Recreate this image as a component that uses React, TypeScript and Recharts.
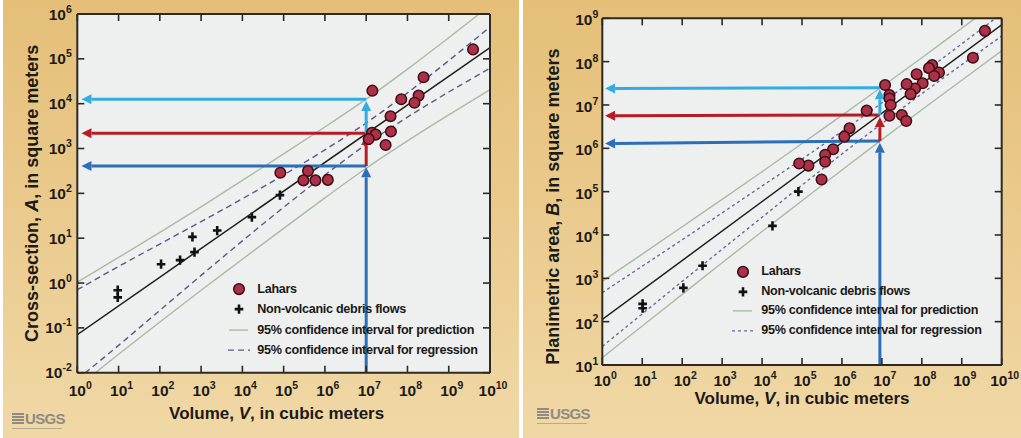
import React from 'react';
import {
  ComposedChart,
  Line,
  Scatter,
  XAxis,
  YAxis,
  ReferenceLine,
  CartesianGrid,
  Legend,
} from 'recharts';

// ---------- ticks & labels ----------
const volumeTicks = [1, 1e1, 1e2, 1e3, 1e4, 1e5, 1e6, 1e7, 1e8, 1e9, 1e10];
const crossSectionTicks = [1e-2, 1e-1, 1, 1e1, 1e2, 1e3, 1e4, 1e5, 1e6];
const planimetricTicks = [1e1, 1e2, 1e3, 1e4, 1e5, 1e6, 1e7, 1e8, 1e9];
const legendLabels = [
  'Lahars',
  'Non-volcanic debris flows',
  '95% confidence interval for prediction',
  '95% confidence interval for regression',
];

type Pair = [number, number]; // [log10 V, log10 area]

// ---------- left panel: cross-section A ----------
const laharsA: Pair[] = [
  [9.59, 5.21], [8.39, 4.59], [7.15, 4.29], [7.85, 4.1], [8.27, 4.18], [8.17, 4.02],
  [7.59, 3.72], [7.6, 3.38], [7.14, 3.35], [7.23, 3.31], [7.06, 3.21], [7.47, 3.08],
  [4.92, 2.46], [5.59, 2.5], [5.48, 2.29], [5.77, 2.29], [6.07, 2.3],
];
const debrisA: Pair[] = [
  [0.98, -0.16], [0.98, -0.32], [2.03, 0.42], [2.49, 0.51], [2.79, 1.03],
  [2.84, 0.69], [3.39, 1.17], [4.23, 1.47], [4.91, 1.96],
];
const curveLogV = [0, 1, 2, 3, 4, 5, 6, 7, 8, 9, 10];
const regLineA: Pair[] = [[0, -1.15], [10, 5.25]];
const regUpperA = [-0.15, 0.37, 0.87, 1.37, 1.88, 2.41, 2.97, 3.57, 4.24, 4.96, 5.71];
const regLowerA = [-2.15, -1.39, -0.61, 0.17, 0.94, 1.69, 2.41, 3.09, 3.7, 4.26, 4.79];
const predUpperA = [0.02, 0.57, 1.13, 1.7, 2.29, 2.88, 3.48, 4.1, 4.77, 5.47, 6.19];
const predLowerA = [-2.32, -1.59, -0.87, -0.16, 0.53, 1.22, 1.9, 2.56, 3.17, 3.75, 4.31];
const arrowsA = [
  { kind: 'lower', from: [7.0, -2] as Pair, to: [7.0, 2.58] as Pair },
  { kind: 'lower', from: [7.0, 2.61] as Pair, to: [0.1, 2.61] as Pair },
  { kind: 'mid', from: [7.0, 2.61] as Pair, to: [7.0, 3.3] as Pair },
  { kind: 'mid', from: [7.0, 3.34] as Pair, to: [0.1, 3.34] as Pair },
  { kind: 'upper', from: [7.0, 3.34] as Pair, to: [7.0, 4.06] as Pair },
  { kind: 'upper', from: [7.0, 4.1] as Pair, to: [0.1, 4.1] as Pair },
];

// ---------- right panel: planimetric area B ----------
const laharsB: Pair[] = [
  [9.58, 8.71], [9.28, 8.09], [8.26, 7.92], [8.18, 7.85], [8.43, 7.75], [8.31, 7.67],
  [7.87, 7.71], [8.02, 7.5], [7.83, 7.38], [7.62, 7.48], [7.72, 7.25], [7.08, 7.46],
  [7.19, 7.23], [7.19, 7.15], [7.22, 7.0], [7.19, 6.75], [7.5, 6.77], [7.61, 6.63],
  [6.62, 6.87], [6.19, 6.46], [6.06, 6.27], [5.78, 5.98], [5.58, 5.85], [5.58, 5.69],
  [5.49, 5.28], [5.16, 5.6], [4.93, 5.65],
];
const debrisB: Pair[] = [
  [1.01, 2.41], [1.01, 2.31], [2.03, 2.78], [2.51, 3.29], [4.26, 4.21], [4.91, 5.0],
];
const regLineB: Pair[] = [[0, 2.05], [10, 8.85]];
const regUpperB = [2.67, 3.28, 3.89, 4.51, 5.13, 5.75, 6.39, 7.05, 7.72, 8.41, 9.11];
const regLowerB = [1.43, 2.18, 2.93, 3.67, 4.41, 5.15, 5.87, 6.57, 7.26, 7.93, 8.59];
const predUpperB = [2.93, 3.56, 4.19, 4.82, 5.46, 6.11, 6.76, 7.42, 8.09, 8.77, 9.45];
const predLowerB = [1.17, 1.9, 2.63, 3.36, 4.08, 4.79, 5.5, 6.2, 6.89, 7.57, 8.25];
const arrowsB = [
  { kind: 'lower', from: [6.95, 1] as Pair, to: [6.95, 6.13] as Pair },
  { kind: 'lower', from: [6.95, 6.17] as Pair, to: [0.07, 6.11] as Pair },
  { kind: 'mid', from: [6.95, 6.17] as Pair, to: [6.95, 6.72] as Pair },
  { kind: 'mid', from: [6.95, 6.77] as Pair, to: [0.07, 6.75] as Pair },
  { kind: 'upper', from: [6.95, 6.77] as Pair, to: [6.95, 7.36] as Pair },
  { kind: 'upper', from: [6.95, 7.4] as Pair, to: [0.07, 7.38] as Pair },
];

// ---------- helpers ----------
const pts = (pairs: Pair[]) => pairs.map(([lv, ly]) => ({ v: 10 ** lv, y: 10 ** ly }));
const curve = (ys: number[]) => pts(curveLogV.map((lv, i) => [lv, ys[i]] as Pair));

// ---------- styles ----------
const FONT = "'Liberation Sans', Arial, Helvetica, sans-serif";
const INK = '#1b1a17';
const FRAME = '#2e2a22';
const PLOT_BG = '#eeefef';
const PRED = '#a9bba6';
const REG = '#1e1e1e';
const ARROW_COLORS: Record<string, string> = {
  lower: '#2a6fb8',
  mid: '#b71c24',
  upper: '#33ace3',
};
const TAN = 'linear-gradient(180deg, #e5bf78 0%, #eac98b 45%, #f0d8a6 100%)';

const arrowShape = (color: string) => (p: any) => {
  const { x1, y1, x2, y2 } = p;
  const dx = x2 - x1;
  const dy = y2 - y1;
  const len = Math.hypot(dx, dy) || 1;
  const ux = dx / len;
  const uy = dy / len;
  const L = 10;
  const W = 5;
  const bx = x2 - ux * L;
  const by = y2 - uy * L;
  return (
    <g>
      <line x1={x1} y1={y1} x2={bx} y2={by} stroke={color} strokeWidth={3} />
      <polygon
        points={`${x2},${y2} ${bx - uy * W},${by + ux * W} ${bx + uy * W},${by - ux * W}`}
        fill={color}
      />
    </g>
  );
};

const LaharDot = (p: any) => (
  <circle cx={p.cx} cy={p.cy} r={5.3} fill="#ad3047" stroke="#3a0f15" strokeWidth={1.5} />
);
const DebrisMark = (p: any) => (
  <path
    d={`M${p.cx - 4.3},${p.cy}H${p.cx + 4.3}M${p.cx},${p.cy - 4.6}V${p.cy + 4.6}`}
    stroke="#111"
    strokeWidth={2.6}
  />
);

const Pow = ({ x, y, value, anchor, dx = 0 }: any) => {
  const e = Math.round(Math.log10(value));
  return (
    <text
      x={x + dx}
      y={y}
      textAnchor={anchor}
      fontFamily={FONT}
      fontWeight="bold"
      fontSize={15.5}
      fill={INK}
    >
      10
      <tspan dy={-7} fontSize={10.5}>
        {e}
      </tspan>
    </text>
  );
};

type Cfg = {
  width: number;
  margin: { top: number; right: number; bottom: number; left: number };
  yTicks: number[];
  yDomain: [number, number];
  lahars: Pair[];
  debris: Pair[];
  regLine: Pair[];
  regUpper: number[];
  regLower: number[];
  predUpper: number[];
  predLower: number[];
  arrows: { kind: string; from: Pair; to: Pair }[];
  dash: string;
  dashColor: string;
  xTickDy: number;
  yTickDy: number;
  yTickDx: number;
  xLabelDx: number;
  xLabelDy: number;
  yLabelDx: number;
  yLabelDy: number;
  yLabel: [string, string, string];
  legendPos: { left: number; top: number };
  legendRow: number;
};

const H = 438;

function Panel({ c }: { c: Cfg }) {
  const tickStroke = { stroke: FRAME, strokeWidth: 1.6 };
  const axisLine = { stroke: FRAME, strokeWidth: 2 };
  const LegendBox = () => (
    <div
      style={{
        fontFamily: FONT,
        fontWeight: 'bold',
        fontSize: 12.6,
        letterSpacing: -0.3,
        color: INK,
      }}
    >
      {legendLabels.map((t, i) => (
        <div key={t} style={{ display: 'flex', alignItems: 'center', height: c.legendRow }}>
          <svg width={30} height={c.legendRow} style={{ flex: 'none' }}>
            {i === 0 && <LaharDot cx={12} cy={c.legendRow / 2} />}
            {i === 1 && <DebrisMark cx={12} cy={c.legendRow / 2} />}
            {i === 2 && (
              <line x1={2} x2={21} y1={c.legendRow / 2} y2={c.legendRow / 2} stroke={PRED} strokeWidth={1.4} />
            )}
            {i === 3 && (
              <line
                x1={1}
                x2={23}
                y1={c.legendRow / 2}
                y2={c.legendRow / 2}
                stroke={c.dashColor}
                strokeWidth={1.4}
                strokeDasharray={c.dash}
              />
            )}
          </svg>
          <span style={{ whiteSpace: 'nowrap', lineHeight: `${c.legendRow}px` }}>{t}</span>
        </div>
      ))}
    </div>
  );

  return (
    <ComposedChart width={c.width} height={H} margin={c.margin}>
      <CartesianGrid fill={PLOT_BG} horizontal={false} vertical={false} stroke="none" />
      <XAxis
        type="number"
        dataKey="v"
        scale="log"
        domain={[1, 1e10]}
        ticks={volumeTicks}
        interval={0}
        allowDataOverflow
        height={30}
        tickSize={0}
        tickMargin={0}
        tickLine={false}
        axisLine={axisLine}
        tick={(p: any) => (
          <g>
            <line x1={p.x} x2={p.x} y1={p.y} y2={p.y - 7} {...tickStroke} />
            <Pow x={p.x} y={p.y + c.xTickDy} value={p.payload.value} anchor="middle" dx={3} />
          </g>
        )}
        label={(p: any) => {
          const vb = p.viewBox;
          return (
            <text
              x={vb.x + vb.width / 2 + c.xLabelDx}
              y={vb.y + c.xLabelDy}
              textAnchor="middle"
              fontFamily={FONT}
              fontWeight="bold"
              fontSize={17}
              fill={INK}
            >
              Volume, <tspan fontStyle="italic">V</tspan>, in cubic meters
            </text>
          );
        }}
      />
      <XAxis
        xAxisId="top"
        orientation="top"
        type="number"
        dataKey="v"
        scale="log"
        domain={[1, 1e10]}
        ticks={volumeTicks}
        interval={0}
        allowDataOverflow
        height={10}
        tickSize={0}
        tickMargin={0}
        tickLine={false}
        axisLine={axisLine}
        tick={(p: any) => <line x1={p.x} x2={p.x} y1={p.y} y2={p.y + 7} {...tickStroke} />}
      />
      <YAxis
        type="number"
        dataKey="y"
        scale="log"
        domain={c.yDomain}
        ticks={c.yTicks}
        interval={0}
        allowDataOverflow
        width={40}
        tickSize={0}
        tickMargin={0}
        tickLine={false}
        axisLine={axisLine}
        tick={(p: any) => (
          <g>
            <line x1={p.x} x2={p.x + 7} y1={p.y} y2={p.y} {...tickStroke} />
            <Pow x={p.x - c.yTickDx} y={p.y + c.yTickDy} value={p.payload.value} anchor="end" />
          </g>
        )}
        label={(p: any) => {
          const vb = p.viewBox;
          const cx = vb.x + c.yLabelDx;
          const cy = vb.y + vb.height / 2 + c.yLabelDy;
          return (
            <text
              transform={`translate(${cx},${cy}) rotate(-90)`}
              textAnchor="middle"
              fontFamily={FONT}
              fontWeight="bold"
              fontSize={18}
              fill={INK}
            >
              {c.yLabel[0]}
              <tspan fontStyle="italic">{c.yLabel[1]}</tspan>
              {c.yLabel[2]}
            </text>
          );
        }}
      />
      <YAxis
        yAxisId="right"
        orientation="right"
        type="number"
        dataKey="y"
        scale="log"
        domain={c.yDomain}
        ticks={c.yTicks}
        interval={0}
        allowDataOverflow
        width={10}
        tickSize={0}
        tickMargin={0}
        tickLine={false}
        axisLine={axisLine}
        tick={(p: any) => <line x1={p.x} x2={p.x - 7} y1={p.y} y2={p.y} {...tickStroke} />}
      />

      <Line data={curve(c.predUpper)} dataKey="y" type="monotone" stroke={PRED} strokeWidth={1.4} dot={false} activeDot={false} isAnimationActive={false} legendType="none" />
      <Line data={curve(c.predLower)} dataKey="y" type="monotone" stroke={PRED} strokeWidth={1.4} dot={false} activeDot={false} isAnimationActive={false} legendType="none" />
      <Line data={curve(c.regUpper)} dataKey="y" type="monotone" stroke={c.dashColor} strokeWidth={1.4} strokeDasharray={c.dash} dot={false} activeDot={false} isAnimationActive={false} legendType="none" />
      <Line data={curve(c.regLower)} dataKey="y" type="monotone" stroke={c.dashColor} strokeWidth={1.4} strokeDasharray={c.dash} dot={false} activeDot={false} isAnimationActive={false} legendType="none" />
      <Line data={pts(c.regLine)} dataKey="y" type="linear" stroke={REG} strokeWidth={1.5} dot={false} activeDot={false} isAnimationActive={false} legendType="none" />

      {c.arrows.map((a, i) => (
        <ReferenceLine
          key={i}
          segment={[
            { x: 10 ** a.from[0], y: 10 ** a.from[1] },
            { x: 10 ** a.to[0], y: 10 ** a.to[1] },
          ]}
          ifOverflow="visible"
          shape={arrowShape(ARROW_COLORS[a.kind])}
        />
      ))}

      <Scatter data={pts(c.debris)} shape={DebrisMark} isAnimationActive={false} legendType="none" />
      <Scatter data={pts(c.lahars)} shape={LaharDot} isAnimationActive={false} legendType="none" />

      <Legend
        layout="vertical"
        align="center"
        verticalAlign="middle"
        content={() => <LegendBox />}
        wrapperStyle={{ left: c.legendPos.left, top: c.legendPos.top, width: 270, height: c.legendRow * 4 }}
      />
    </ComposedChart>
  );
}

const leftCfg: Cfg = {
  width: 515,
  margin: { top: 4, right: 15, bottom: 35.3, left: 37.3 },
  yTicks: crossSectionTicks,
  yDomain: [1e-2, 1e6],
  lahars: laharsA,
  debris: debrisA,
  regLine: regLineA,
  regUpper: regUpperA,
  regLower: regLowerA,
  predUpper: predUpperA,
  predLower: predLowerA,
  arrows: arrowsA,
  dash: '6 4',
  dashColor: '#5a5a86',
  xTickDy: 23,
  yTickDy: 5.5,
  yTickDx: 5.5,
  xLabelDx: -7,
  xLabelDy: 46,
  yLabelDx: 0.5,
  yLabelDy: 0,
  yLabel: ['Cross-section, ', 'A', ', in square meters'],
  legendPos: { left: 227.3, top: 279.2 },
  legendRow: 20.2,
};

const rightCfg: Cfg = {
  width: 511,
  margin: { top: 8.3, right: 9.3, bottom: 43, left: 52.3 },
  yTicks: planimetricTicks,
  yDomain: [1e1, 1e9],
  lahars: laharsB,
  debris: debrisB,
  regLine: regLineB,
  regUpper: regUpperB,
  regLower: regLowerB,
  predUpper: predUpperB,
  predLower: predLowerB,
  arrows: arrowsB,
  dash: '3 3',
  dashColor: '#6a6a9c',
  xTickDy: 21,
  yTickDy: 7,
  yTickDx: 4,
  xLabelDx: 0,
  xLabelDy: 39,
  yLabelDx: -3,
  yLabelDy: 15,
  yLabel: ['Planimetric area, ', 'B', ', in square meters'],
  legendPos: { left: 221.3, top: 261.8 },
  legendRow: 19.8,
};

const Logo = ({ left, top }: { left: number; top: number }) => (
  <div style={{ position: 'absolute', left, top }}>
    <div
      style={{
        display: 'flex',
        alignItems: 'center',
        color: '#8e8b84',
        fontFamily: FONT,
        fontWeight: 'bold',
        fontSize: 15,
        letterSpacing: -0.7,
        lineHeight: '15px',
      }}
    >
      <div
        style={{
          width: 12,
          height: 12,
          marginRight: 1,
          background: 'repeating-linear-gradient(180deg, #8e8b84 0px, #8e8b84 1.6px, transparent 1.6px, transparent 3px)',
        }}
      />
      <span>USGS</span>
    </div>
    <div style={{ width: 50, height: 1, marginTop: 2, background: '#b7ab8e' }} />
  </div>
);

export default function App() {
  return (
    <div
      style={{
        position: 'absolute',
        left: 0,
        top: 0,
        width: 1021,
        height: 438,
        overflow: 'hidden',
        background: '#ffffff',
      }}
    >
      <div style={{ position: 'absolute', left: 3, top: 0, width: 516, height: 438, background: TAN }} />
      <div style={{ position: 'absolute', left: 523, top: 0, width: 498, height: 438, background: TAN }} />
      <div style={{ position: 'absolute', left: 0, top: 0 }}>
        <Panel c={leftCfg} />
      </div>
      <div style={{ position: 'absolute', left: 510, top: 0 }}>
        <Panel c={rightCfg} />
      </div>
      <Logo left={12} top={411} />
      <Logo left={537} top={406} />
    </div>
  );
}
